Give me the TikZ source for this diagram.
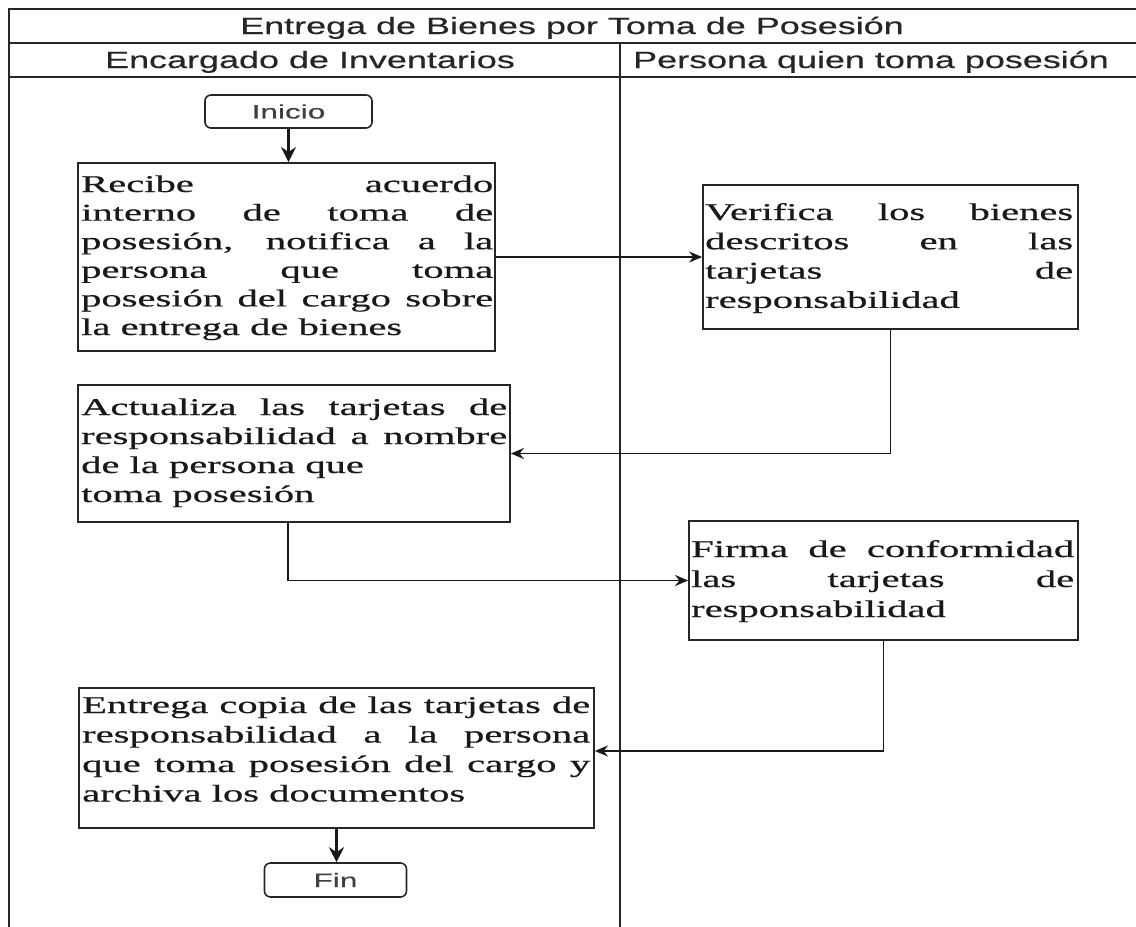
\documentclass[tikz,border=0pt]{standalone}
\usepackage{fontspec}
\usepackage{graphicx}
\usetikzlibrary{arrows.meta,calc}
\newfontfamily\boxfont[FakeBold=0.45]{Liberation Serif}
\newfontfamily\headfont[FakeBold=0.35]{Liberation Sans}
% justified / left lines of a given final width (text is later widened 1.69x)
\newcommand\JL[2]{\hbox to \dimexpr #1*100/169\relax{#2}}
\newcommand\LL[2]{\hbox to \dimexpr #1*100/169\relax{#2\hfil}}
\newcommand\WIDE[2]{\scalebox{#1}[1]{#2}}
\begin{document}
\begin{tikzpicture}[x=1pt,y=-1pt,line join=miter,
  frame/.style={draw=black!85,line width=1.8pt},
  hdr/.style={anchor=base,inner sep=0,text=black!85,font=\headfont\fontsize{23.5}{26}\selectfont},
  proc/.style={draw=black!85,line width=1.8pt,rectangle,inner sep=0},
  term/.style={draw=black!85,line width=1.6pt,rectangle,rounded corners=6pt,inner sep=0,text=black!75,font=\headfont\fontsize{19.5}{22}\selectfont},
  boxtext/.style={anchor=base west,inner sep=0,text=black!90,font=\boxfont\fontsize{24}{29.3}\selectfont},
  conn/.style={draw=black!90,line width=1.8pt,-{Stealth[length=13pt,width=11pt]}},
  connb/.style={draw=black!90,line width=2.6pt,-{Stealth[length=15pt,width=15pt]}}]
\useasboundingbox (0,0) rectangle (1136,927);
\fill[white] (0,0) rectangle (1136,927);
% swimlane frame
\draw[frame] (1136,9) -- (9,9) -- (9,927);
\draw[frame] (9,43) -- (1136,43);
\draw[frame] (9,77) -- (1136,77);
\draw[frame] (620,43) -- (620,927);
\node[hdr] (title) at (572,34) {\WIDE{1.53}{Entrega de Bienes por Toma de Posesión}};
\node[hdr] (lane1) at (310,68) {\WIDE{1.53}{Encargado de Inventarios}};
\node[hdr] (lane2) at (871,68) {\WIDE{1.53}{Persona quien toma posesión}};
% terminals
\node[term,minimum width=167pt,minimum height=33pt] (ini) at (288.5,111.5) {\WIDE{1.62}{Inicio}};
\node[term,minimum width=142pt,minimum height=34pt] (fin) at (335.5,880) {\WIDE{1.62}{Fin}};
% process boxes
\node[proc,minimum width=417pt,minimum height=188pt] (b1) at (286.5,257) {};
\node[proc,minimum width=375pt,minimum height=144pt] (b2) at (890.5,257) {};
\node[proc,minimum width=432pt,minimum height=137pt] (b3) at (294,453.5) {};
\node[proc,minimum width=389pt,minimum height=119pt] (b4) at (883.5,580.5) {};
\node[proc,minimum width=515pt,minimum height=140pt] (b5) at (336.5,758) {};
% box texts
\node[boxtext] (t1) at (81,192) {\WIDE{1.69}{\vtop{\baselineskip=28.6pt
  \JL{412pt}{Recibe acuerdo}
  \JL{412pt}{interno de toma de}
  \JL{412pt}{posesión, notifica a la}
  \JL{412pt}{persona que toma}
  \JL{412pt}{posesión del cargo sobre}
  \LL{412pt}{la entrega de bienes}}}};
\node[boxtext] (t2) at (705,220) {\WIDE{1.69}{\vtop{\baselineskip=29.3pt
  \JL{368pt}{Verifica los bienes}
  \JL{368pt}{descritos en las}
  \JL{368pt}{tarjetas de}
  \LL{368pt}{responsabilidad}}}};
\node[boxtext] (t3) at (81,415) {\WIDE{1.69}{\vtop{\baselineskip=29pt
  \JL{426pt}{Actualiza las tarjetas de}
  \JL{426pt}{responsabilidad a nombre}
  \LL{426pt}{de la persona que}
  \LL{426pt}{toma posesión}}}};
\node[boxtext] (t4) at (691,557) {\WIDE{1.69}{\vtop{\baselineskip=30pt
  \JL{383pt}{Firma de conformidad}
  \JL{383pt}{las tarjetas de}
  \LL{383pt}{responsabilidad}}}};
\node[boxtext] (t5) at (82,713) {\WIDE{1.69}{\vtop{\baselineskip=29.5pt
  \JL{508pt}{Entrega copia de las tarjetas de}
  \JL{508pt}{responsabilidad a la persona}
  \JL{508pt}{que toma posesión del cargo y}
  \LL{508pt}{archiva los documentos}}}};
% connectors
\draw[connb] (ini.south) -- (ini.south |- b1.north);
\draw[conn] (b1.east) -- (b1.east -| b2.west);
\draw[conn] (b2.south) |- (b3.east);
\draw[conn] ([xshift=-6pt]b3.south) |- (b4.west);
\draw[conn] (b4.south) |- ([yshift=7pt]b5.east);
\draw[connb] (b5.south) -- (b5.south |- fin.north);
\end{tikzpicture}
\end{document}
